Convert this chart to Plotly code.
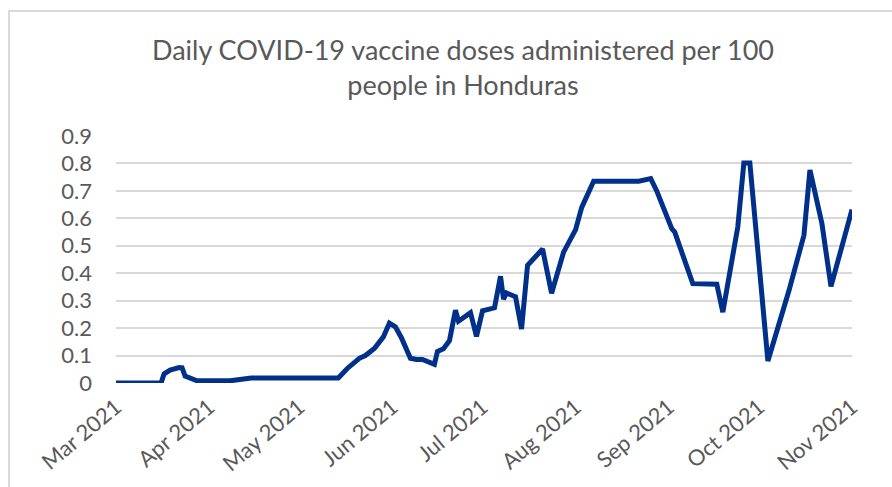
import plotly.graph_objects as go

dates = [
    "2021-03-01", "2021-03-16", "2021-03-17", "2021-03-19", "2021-03-22", "2021-03-23",
    "2021-03-24", "2021-03-28", "2021-04-08", "2021-04-15", "2021-05-14", "2021-05-17",
    "2021-05-21", "2021-05-23", "2021-05-26", "2021-05-29", "2021-05-31", "2021-06-02",
    "2021-06-04", "2021-06-07", "2021-06-09", "2021-06-11", "2021-06-15", "2021-06-16",
    "2021-06-18", "2021-06-20", "2021-06-22", "2021-06-23", "2021-06-27", "2021-06-29",
    "2021-07-01", "2021-07-05", "2021-07-07", "2021-07-08", "2021-07-09", "2021-07-12",
    "2021-07-14", "2021-07-16", "2021-07-21", "2021-07-24", "2021-07-28", "2021-07-31",
    "2021-08-01", "2021-08-03", "2021-08-07", "2021-08-22", "2021-08-26", "2021-08-28",
    "2021-09-02", "2021-09-03", "2021-09-09", "2021-09-17", "2021-09-19", "2021-09-24",
    "2021-09-26", "2021-09-28", "2021-10-04", "2021-10-11", "2021-10-16", "2021-10-18",
    "2021-10-22", "2021-10-25", "2021-11-01",
]
doses_per_100 = [
    0.0, 0.0, 0.033, 0.047, 0.056, 0.055,
    0.025, 0.008, 0.008, 0.018, 0.018, 0.053,
    0.09, 0.10, 0.126, 0.168, 0.218, 0.205,
    0.165, 0.09, 0.086, 0.086, 0.068, 0.115,
    0.125, 0.154, 0.265, 0.225, 0.256, 0.17,
    0.263, 0.274, 0.389, 0.305, 0.328, 0.314,
    0.197, 0.429, 0.488, 0.327, 0.477, 0.544,
    0.559, 0.639, 0.735, 0.735, 0.745, 0.70,
    0.562, 0.55, 0.362, 0.36, 0.258, 0.57,
    0.802, 0.802, 0.08, 0.336, 0.538, 0.776,
    0.58, 0.352, 0.632,
]
tick_dates = ["2021-03-01", "2021-04-01", "2021-05-01", "2021-06-01", "2021-07-01",
              "2021-08-01", "2021-09-01", "2021-10-01", "2021-11-01"]
tick_labels = ["Mar 2021", "Apr 2021", "May 2021", "Jun 2021", "Jul 2021",
               "Aug 2021", "Sep 2021", "Oct 2021", "Nov 2021"]
y_ticks = [0, 0.1, 0.2, 0.3, 0.4, 0.5, 0.6, 0.7, 0.8, 0.9]
y_labels = ["0", "0.1", "0.2", "0.3", "0.4", "0.5", "0.6", "0.7", "0.8", "0.9"]

title_text = "Daily COVID-19 vaccine doses administered per 100<br>people in Honduras"

FONT = "Lato"
GREY = "#595959"

fig = go.Figure()
fig.add_trace(go.Scatter(
    x=dates, y=doses_per_100, mode="lines",
    line=dict(color="#00308A", width=5),
    hoverinfo="x+y",
))

L, R, T, B = 116, 40, 136, 104
W, H = 892, 487
pw = W - L - R
ph = H - T - B

def px_x(p):
    return (p - L) / pw

def px_y(p):
    return (H - B - p) / ph

fig.update_layout(
    width=W, height=H,
    margin=dict(l=L, r=R, t=T, b=B, pad=0),
    paper_bgcolor="white", plot_bgcolor="white",
    showlegend=False,
    font=dict(family=FONT, color=GREY),
    title=dict(
        text=title_text, x=463 / W, xanchor="center", xref="container",
        y=1 - 60 / H, yanchor="top", yref="container",
        font=dict(family=FONT, size=27, color=GREY),
    ),
    xaxis=dict(
        type="date",
        range=["2021-03-01", "2021-11-01"],
        tickmode="array", tickvals=tick_dates, ticktext=tick_labels,
        tickangle=-40, showgrid=False, zeroline=False, showline=False,
        ticks="", ticklabelstandoff=6,
        tickfont=dict(family=FONT, size=22, color=GREY),
        fixedrange=True,
    ),
    yaxis=dict(
        range=[0, 0.9],
        tickmode="array", tickvals=y_ticks, ticktext=y_labels,
        showgrid=True, gridcolor="#d9d9d9", gridwidth=1.5,
        zeroline=False, showline=False, ticks="",
        ticklabelstandoff=23,
        tickfont=dict(family=FONT, size=22, color=GREY),
        fixedrange=True,
    ),
    shapes=[
        dict(type="rect", xref="paper", yref="paper",
             x0=px_x(9), x1=px_x(905), y0=px_y(500), y1=px_y(11),
             line=dict(color="#d9d9d9", width=2), fillcolor="rgba(0,0,0,0)",
             layer="below"),
    ],
)

fig.write_html("out.html")
